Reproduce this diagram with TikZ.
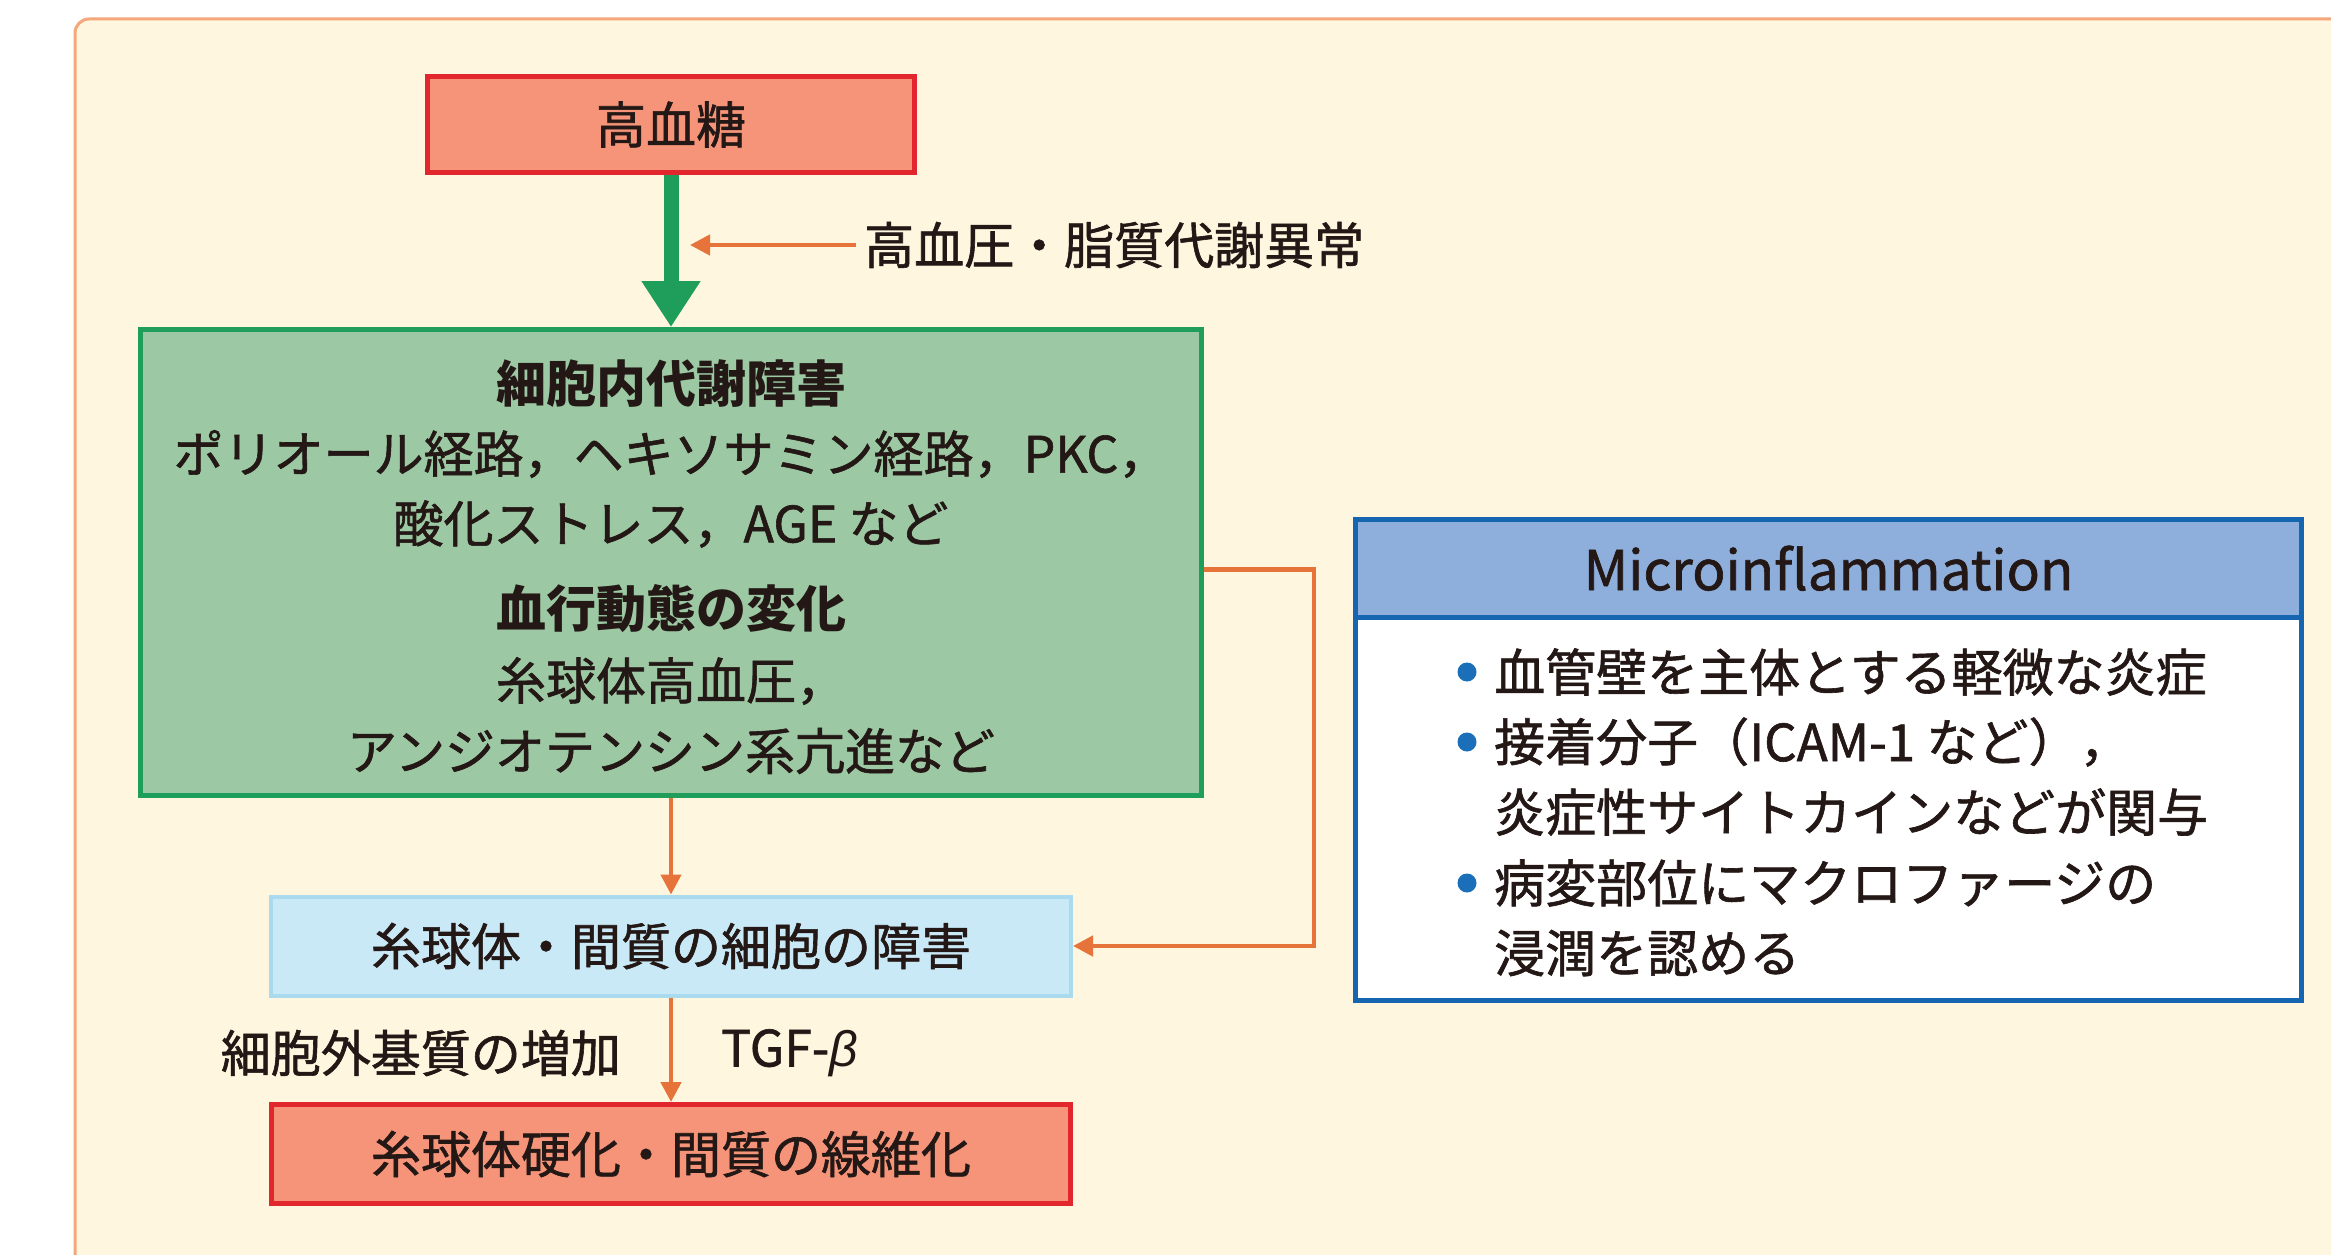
\documentclass[tikz,border=0pt]{standalone}
\usepackage{fontspec}
\setmainfont{Noto Sans CJK JP}[UprightFeatures={FakeBold=1.2}]
\newfontfamily\grk{Liberation Sans}
\usetikzlibrary{arrows.meta,calc}
\definecolor{bgcream}{HTML}{FEF6DE}
\definecolor{bgborder}{HTML}{F3A77A}
\definecolor{redfill}{HTML}{F59479}
\definecolor{redline}{HTML}{E2262E}
\definecolor{greenfill}{HTML}{9CC9A3}
\definecolor{greenline}{HTML}{1E9E5A}
\definecolor{arrorange}{HTML}{E5733A}
\definecolor{lbfill}{HTML}{C9E9F6}
\definecolor{lbline}{HTML}{A9DAEE}
\definecolor{blueline}{HTML}{1565B0}
\definecolor{bluehead}{HTML}{8EAEDC}
\definecolor{bulletblue}{HTML}{1A6FB8}
\definecolor{txt}{HTML}{231815}
\tikzset{
  box/.style={draw, line width=5pt, inner sep=0pt, text=txt, font=\fontsize{50}{60}\selectfont},
  redbox/.style={box, fill=redfill, draw=redline},
  lbl/.style={inner sep=0pt, text=txt, font=\fontsize{50}{60}\selectfont},
  blbl/.style={inner sep=0pt, text=txt, font=\fontsize{50}{60}\selectfont\bfseries},
  mlbl/.style={inner sep=0pt, text=txt, font=\fontsize{51}{60}\selectfont, anchor=west},
  orarrow/.style={draw=arrorange, line width=4.5pt, -{Triangle[length=20pt,width=20pt]}},
  dot/.style={circle, fill=bulletblue, inner sep=0pt, minimum size=19pt}
}
\begin{document}
\begin{tikzpicture}[x=1pt,y=-1pt]
\useasboundingbox (0,0) rectangle (2331,1255);
\fill[white] (0,0) rectangle (2331,1255);
\draw[bgborder, fill=bgcream, line width=3pt, rounded corners=14pt] (75,19) rectangle (2380,1300);

% top red box
\node[redbox, minimum width=487pt, minimum height=96pt] (hbg) at (671,124.5) {高血糖};

% green box
\node[box, fill=greenfill, draw=greenline, minimum width=1061pt, minimum height=466pt] (gbox) at (671,562.5) {};
\node[blbl] (t1) at (671,384) {細胞内代謝障害};
\node[lbl] (t2) at (671,454) {ポリオール経路，ヘキソサミン経路，PKC，};
\node[lbl] (t3) at (671,524) {酸化ストレス，AGE など};
\node[blbl] (t4) at (671,609) {血行動態の変化};
\node[lbl] (t5) at (671,681) {糸球体高血圧，};
\node[lbl] (t6) at (671,751) {アンジオテンシン系亢進など};

% green arrow
\draw[greenline, line width=15pt, -{Triangle[length=46pt,width=56pt]}] (hbg.south) -- (gbox.north);

% side label
\node[lbl, anchor=west] (hyp) at (864,245) {高血圧・脂質代謝異常};
\coordinate (hypend) at (690,245);
\draw[orarrow] ([xshift=-8pt]hyp.west) -- (hypend);

% light blue box
\node[box, fill=lbfill, draw=lbline, line width=4pt, minimum width=800pt, minimum height=99pt] (lbox) at (671,946) {糸球体・間質の細胞の障害};

% bottom red box
\node[redbox, minimum width=799pt, minimum height=99pt] (rbox) at (671,1154) {糸球体硬化・間質の線維化};

% arrows
\draw[orarrow] (gbox.south) -- (lbox.north);
\draw[orarrow] (lbox.south) -- (rbox.north);
\draw[orarrow] ([yshift=-7pt]gbox.east) -- ++(110,0) |- (lbox.east);

\node[lbl, anchor=east] (ecm) at (621,1053) {細胞外基質の増加};
\node[lbl, anchor=west] (tgf) at (721,1053) {TGF-{\grk\itshape β}};

% Microinflammation box
\node[draw=blueline, fill=white, line width=5pt, inner sep=0pt, minimum width=946pt, minimum height=481pt] (mbox) at (1828.5,760) {};
\node[draw=blueline, fill=bluehead, line width=5pt, inner sep=0pt, minimum width=946pt, minimum height=97.5pt, text=txt, font=\fontsize{55}{60}\selectfont] (mhead) at (1828.5,568.25) {Microinflammation};

\node[dot] (d1) at (1467,672) {};
\node[mlbl] (m1) at (1494,672) {血管壁を主体とする軽微な炎症};
\node[dot] (d2) at (1467,742) {};
\node[mlbl] (m2) at (1494,742) {接着分子（ICAM-1 など），};
\node[mlbl] (m3) at (1494,812) {炎症性サイトカインなどが関与};
\node[dot] (d3) at (1467,883) {};
\node[mlbl] (m4) at (1494,883) {病変部位にマクロファージの};
\node[mlbl] (m5) at (1494,953) {浸潤を認める};
\end{tikzpicture}
\end{document}
